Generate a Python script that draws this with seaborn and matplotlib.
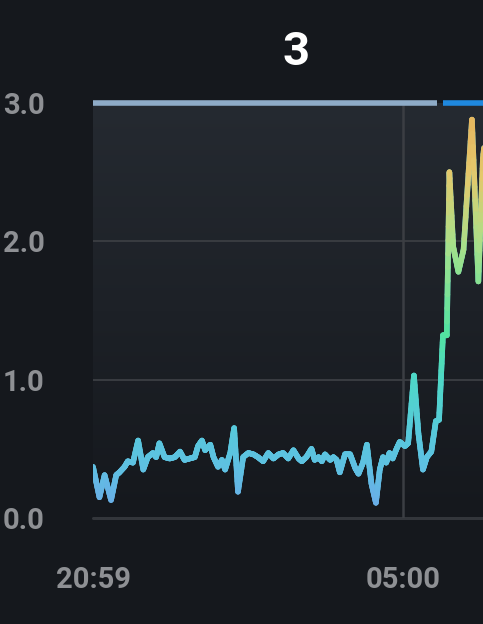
"""
Single sensor trend panel: value over the night, coloured by level
"""

import numpy as np
import pandas as pd
import matplotlib
matplotlib.use('Agg')
import matplotlib.pyplot as plt
import matplotlib.dates as mdates
from matplotlib.collections import LineCollection
from matplotlib.colors import LinearSegmentedColormap, Normalize
import seaborn as sns

# Data (minutes after 20:59, value)
start = pd.Timestamp('2024-01-01 20:59')
minutes = [0, 10, 18, 28, 36, 41, 49, 54, 62, 70, 78, 85, 93, 98, 103, 111, 119,
           127, 135, 142, 150, 158, 163, 169, 174, 182, 187, 194, 200, 205, 213,
           219, 225, 233, 241, 249, 256, 264, 272, 280, 288, 295, 303, 311, 319,
           324, 331, 339, 344, 350, 355, 360, 368, 373, 378, 383, 391, 399, 407,
           412, 419, 425, 432, 439, 445, 450, 455, 460, 465, 471, 476, 484, 489,
           498, 505, 512, 518, 525, 532, 537, 543, 549, 553, 559, 567, 575, 588,
           598, 605, 613]
values = [0.37, 0.15, 0.31, 0.13, 0.31, 0.33, 0.37, 0.41, 0.40, 0.56, 0.35, 0.44,
          0.47, 0.44, 0.54, 0.44, 0.43, 0.44, 0.48, 0.42, 0.43, 0.44, 0.52, 0.56,
          0.49, 0.53, 0.44, 0.37, 0.42, 0.35, 0.47, 0.65, 0.19, 0.44, 0.47, 0.46,
          0.44, 0.41, 0.47, 0.43, 0.46, 0.47, 0.43, 0.49, 0.43, 0.41, 0.44, 0.50,
          0.42, 0.44, 0.41, 0.46, 0.42, 0.44, 0.42, 0.33, 0.46, 0.46, 0.36, 0.32,
          0.40, 0.53, 0.25, 0.11, 0.35, 0.44, 0.40, 0.47, 0.43, 0.50, 0.55, 0.52,
          0.54, 1.03, 0.61, 0.35, 0.44, 0.48, 0.70, 0.71, 1.32, 1.32, 2.50, 1.96,
          1.78, 1.94, 2.88, 1.71, 2.60, 2.95]

# status strip along the top (minutes after start)
status_start = [0, 543]
status_end = [534, 640]
status_colors = ['#8eabc7', '#1f88de']

y_ticks = [0, 1, 2, 3]
y_labels = ['0.0', '1.0', '2.0', '3.0']
x_ticks = [pd.Timestamp('2024-01-01 20:59'), pd.Timestamp('2024-01-02 05:00')]
view_minutes = 630

BG = '#15181d'
LABEL = '#8e9094'
GRID = '#393c41'

sns.set_theme(style='dark', rc={'axes.facecolor': BG, 'figure.facecolor': BG})
plt.rcParams['font.family'] = ['Roboto', 'DejaVu Sans']

df = pd.DataFrame({'time': start + pd.to_timedelta(minutes, unit='min'),
                   'value': values})

fig = plt.figure(figsize=(4.83, 6.24), dpi=100)
ax = fig.add_axes([93 / 483, 1 - 518 / 624, 406 / 483, 415 / 624])

x0 = mdates.date2num(start)
x1 = mdates.date2num(start + pd.Timedelta(minutes=view_minutes))

# soft vertical background gradient inside the plot
bg_cmap = LinearSegmentedColormap.from_list('bg', ['#15181d', '#252a31'])
ax.imshow(np.linspace(0, 1, 256).reshape(-1, 1), extent=[x0, x1, 0, 3],
          origin='lower', aspect='auto', cmap=bg_cmap, zorder=0)

# grid
for y in [1, 2]:
    ax.axhline(y, color=GRID, lw=1.4, zorder=1)
ax.axhline(0, color='#33363b', lw=2.2, zorder=1, clip_on=False)
ax.axvline(mdates.date2num(x_ticks[1]), color='#3b3e43', lw=1.8, zorder=1)

# base line through seaborn, gradient overlay on top
line_cmap = LinearSegmentedColormap.from_list(
    'level', [(0.0, '#6ea6ea'), (0.12, '#5fc0e2'), (0.2, '#58c8dc'),
              (0.34, '#4ed8c6'), (0.45, '#52e3a0'), (0.66, '#a8e08a'),
              (0.83, '#e4c86b'), (1.0, '#e6b05a')])
norm = Normalize(0, 3)
sns.lineplot(data=df, x='time', y='value', ax=ax, color='#5cc6dc', lw=4.0,
             solid_capstyle='round', solid_joinstyle='round', zorder=2)

xs = mdates.date2num(df['time'])
ys = np.asarray(values)
segs, cols = [], []
for i in range(len(xs) - 1):
    t = np.linspace(0, 1, 13)
    px = xs[i] + (xs[i + 1] - xs[i]) * t
    py = ys[i] + (ys[i + 1] - ys[i]) * t
    for j in range(len(t) - 1):
        segs.append([(px[j], py[j]), (px[j + 1], py[j + 1])])
        cols.append(line_cmap(norm((py[j] + py[j + 1]) / 2)))
lc = LineCollection(segs, colors=cols, linewidths=4.0, capstyle='round',
                    joinstyle='round', zorder=3)
ax.add_collection(lc)

# status strip at 3.0
for s, e, c in zip(status_start, status_end, status_colors):
    ax.hlines(3, mdates.date2num(start + pd.Timedelta(minutes=s)),
              mdates.date2num(start + pd.Timedelta(minutes=e)),
              color=c, lw=4, zorder=4, clip_on=False)

ax.set_xlim(x0, x1)
ax.set_ylim(0, 3)
ax.set_yticks(y_ticks)
ax.set_yticklabels(y_labels)
ax.set_xticks(mdates.date2num(x_ticks))
ax.xaxis.set_major_formatter(mdates.DateFormatter('%H:%M'))
ax.tick_params(axis='y', length=0, pad=35, labelsize=21, labelcolor=LABEL)
ax.tick_params(axis='x', length=0, pad=34.5, labelsize=21, labelcolor=LABEL)
for lbl in ax.get_xticklabels() + ax.get_yticklabels():
    lbl.set_fontweight('bold')
ax.set_xlabel('')
ax.set_ylabel('')
ax.grid(False)
for sp in ax.spines.values():
    sp.set_visible(False)

fig.text(296 / 483, 1 - 52 / 624, '3', ha='center', va='center',
         fontsize=34, fontweight='bold', color='white')

fig.savefig('out.png', dpi=100, facecolor=BG)
